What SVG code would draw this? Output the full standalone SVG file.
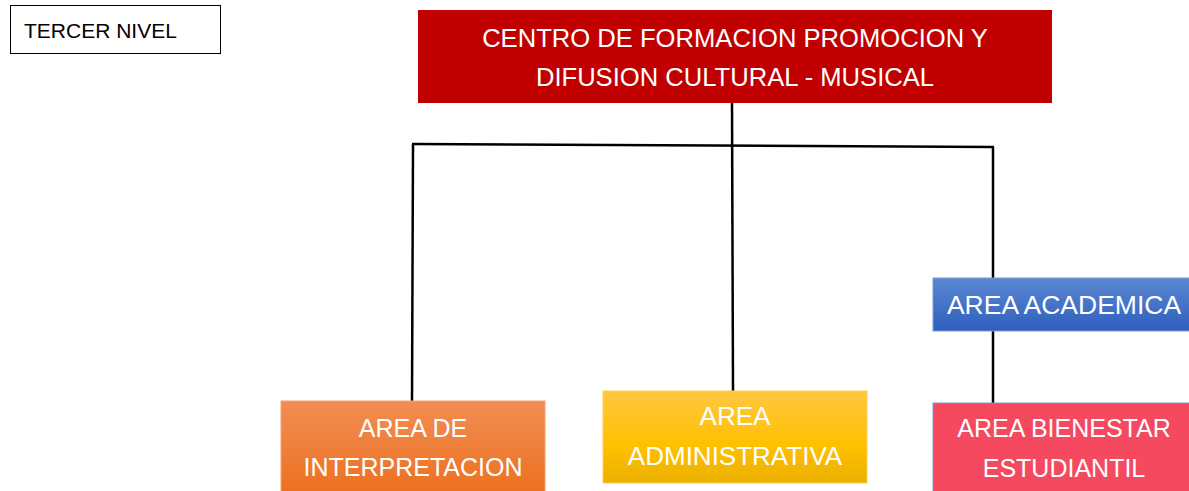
<svg xmlns="http://www.w3.org/2000/svg" width="1189" height="491" viewBox="0 0 1189 491">
<defs>
<linearGradient id="gOrange" x1="0" y1="0" x2="0" y2="1"><stop offset="0" stop-color="#F28D54"/><stop offset="1" stop-color="#EC7120"/></linearGradient>
<linearGradient id="gYellow" x1="0" y1="0" x2="0" y2="1"><stop offset="0" stop-color="#FFC740"/><stop offset="0.6" stop-color="#FFC000"/><stop offset="1" stop-color="#EBB000"/></linearGradient>
<linearGradient id="gBlue" x1="0" y1="0" x2="0" y2="1"><stop offset="0" stop-color="#5B87D2"/><stop offset="1" stop-color="#2F5FBE"/></linearGradient>
<style>
.t{font-family:"Liberation Sans",Arial,sans-serif;fill:#fff;text-anchor:middle;font-size:25px}
.c{stroke:#000;stroke-width:2.5;fill:none}
</style>
</defs>
<g id="label">
<rect x="10.5" y="5.5" width="210" height="48" fill="#fff" stroke="#000" stroke-width="1"/>
<text x="24" y="38" style="font-family:'Liberation Sans',Arial,sans-serif;font-size:21px;fill:#000">TERCER NIVEL</text>
</g>
<g id="connectors">
<line class="c" x1="732" y1="103" x2="733" y2="391"/>
<line class="c" x1="412" y1="144" x2="994" y2="147"/>
<line class="c" x1="413" y1="144" x2="412" y2="401"/>
<line class="c" x1="993" y1="147" x2="993" y2="278"/>
<line class="c" x1="993" y1="331" x2="993" y2="403"/>
</g>
<g id="title">
<rect x="418" y="10" width="634" height="93" fill="#C00000"/>
<text class="t" x="735" y="47" style="font-size:25.6px">CENTRO DE FORMACION PROMOCION Y</text>
<text class="t" x="735" y="86" style="font-size:25.6px">DIFUSION CULTURAL - MUSICAL</text>
</g>
<g id="interpretacion">
<rect x="281" y="401" width="264" height="92" fill="url(#gOrange)" stroke="#F5A070" stroke-width="1"/>
<text class="t" x="413" y="437">AREA DE</text>
<text class="t" x="413" y="476">INTERPRETACION</text>
</g>
<g id="administrativa">
<rect x="603" y="391" width="264" height="92" fill="url(#gYellow)" stroke="#FFD050" stroke-width="1"/>
<text class="t" x="735" y="425" style="font-size:26px">AREA</text>
<text class="t" x="735" y="465" style="font-size:26px">ADMINISTRATIVA</text>
</g>
<g id="academica">
<rect x="933" y="278" width="260" height="53" fill="url(#gBlue)" stroke="#7A9CDA" stroke-width="1"/>
<text class="t" x="1064" y="314" style="font-size:26.5px">AREA ACADEMICA</text>
</g>
<g id="bienestar">
<rect x="933" y="403" width="260" height="92" fill="#F4495F" stroke="#7A9CDA" stroke-width="1"/>
<text class="t" x="1064" y="437">AREA BIENESTAR</text>
<text class="t" x="1064" y="477">ESTUDIANTIL</text>
</g>
</svg>
